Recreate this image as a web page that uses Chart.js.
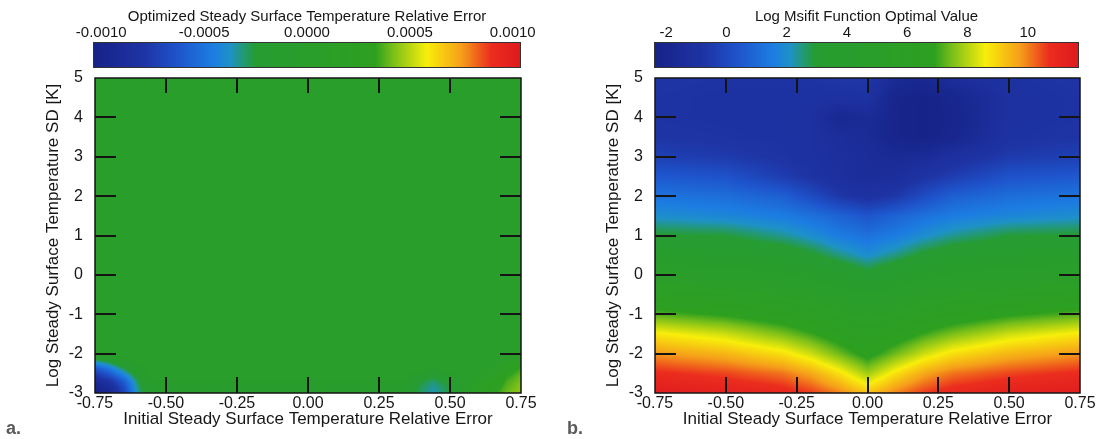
<!DOCTYPE html>
<html>
<head>
<meta charset="utf-8">
<script src="https://cdn.jsdelivr.net/npm/chart.js@4.4.1/dist/chart.umd.min.js"></script>
<style>
  body { margin: 0; background: #fff; width: 1097px; height: 439px; position: relative; overflow: hidden; }
  canvas { position: absolute; }
  .tag { position: absolute; top: 418px; font: bold 18px "Liberation Sans", Arial, sans-serif; color: #5a5a5a; }
</style>
</head>
<body>
<canvas id="barA" width="560" height="75" style="left:0;top:0"></canvas>
<canvas id="mapA" width="560" height="439" style="left:0;top:0"></canvas>
<canvas id="barB" width="537" height="75" style="left:560px;top:0"></canvas>
<canvas id="mapB" width="537" height="439" style="left:560px;top:0"></canvas>
<div class="tag" style="left:6px">a.</div>
<div class="tag" style="left:567px">b.</div>
<script>
// axis ticks
var axisXTicks = [-0.75, -0.5, -0.25, 0, 0.25, 0.5, 0.75];
var axisYTicks = [-3, -2, -1, 0, 1, 2, 3, 4, 5];
var barTicksA = [-0.001, -0.0005, 0, 0.0005, 0.001];
var barTicksB = [-2, 0, 2, 4, 6, 8, 10];
var rangeA = [-0.00104, 0.00104];
var rangeB = [-2.4, 11.7];

// panel a: optimized relative error, rows go from y=-3 upwards
var gridXA = [-0.75, -0.7, -0.65, -0.6, -0.55, 0.34, 0.39, 0.44, 0.49, 0.54, 0.6, 0.66, 0.7, 0.75];
var gridYA = [-3, -2.85, -2.7, -2.55, -2.4, -2.2, -2.0, 5];
var errA = [
  [-0.00104, -0.00095, -0.00072, -0.00035, -0.00012, -0.0001, -0.00028, -0.00036, -0.00028, -0.0001, 0.00015, 0.00033, 0.0004, 0.00045],
  [-0.001, -0.0009, -0.00068, -0.00032, -0.0001, -0.00008, -0.00027, -0.00034, -0.00027, -0.00008, 0.00015, 0.0003, 0.00038, 0.00044],
  [-0.0009, -0.0008, -0.0006, -0.00028, -0.00005, -0.00005, -0.00024, -0.0003, -0.00024, -0.00005, 0.0001, 0.00025, 0.00036, 0.00042],
  [-0.00078, -0.00065, -0.00045, -0.0002, 0, 0, -0.00012, -0.00024, -0.00012, 0, 0.00005, 0.00015, 0.00032, 0.0004],
  [-0.00065, -0.0005, -0.0003, -0.0001, 0, 0, 0, -0.00005, 0, 0, 0, 0.00005, 0.00025, 0.00036],
  [-0.00035, -0.00025, -0.0001, 0, 0, 0, 0, 0, 0, 0, 0, 0, 0.0001, 0.0002],
  [0, 0, 0, 0, 0, 0, 0, 0, 0, 0, 0, 0, 0, 0],
  [0, 0, 0, 0, 0, 0, 0, 0, 0, 0, 0, 0, 0, 0]
];

// panel b: log misfit, rows go from y=-3 upwards
var gridXB = [-0.75, -0.5, -0.3, -0.2, -0.1, 0, 0.1, 0.2, 0.3, 0.5, 0.75];
var gridYB = [-3, -2.5, -2, -1.5, -1, -0.5, 0, 0.5, 1, 1.5, 2, 2.5, 3, 3.5, 4, 4.5, 5];
var misfitB = [
  [11.5, 11.3, 11.0, 10.6, 10.0, 9.2, 10.0, 10.6, 11.0, 11.3, 11.5],
  [10.8, 10.5, 10.1, 9.6, 8.8, 7.8, 8.8, 9.6, 10.1, 10.5, 10.8],
  [9.8, 9.4, 8.8, 8.2, 7.4, 6.6, 7.4, 8.2, 8.8, 9.4, 9.8],
  [8.7, 8.2, 7.5, 7.0, 6.4, 6.0, 6.4, 7.0, 7.5, 8.2, 8.7],
  [7.2, 6.8, 6.3, 6.0, 5.6, 5.3, 5.6, 6.0, 6.3, 6.8, 7.2],
  [6.0, 5.7, 5.4, 5.2, 4.8, 4.5, 4.8, 5.2, 5.4, 5.7, 6.0],
  [5.0, 4.8, 4.5, 4.2, 3.8, 3.2, 3.8, 4.2, 4.5, 4.8, 5.0],
  [4.0, 3.8, 3.5, 3.1, 2.5, 2.0, 2.5, 3.1, 3.5, 3.8, 4.0],
  [3.0, 2.9, 2.4, 2.0, 1.5, 1.2, 1.5, 2.0, 2.4, 2.9, 3.0],
  [2.0, 1.8, 1.5, 1.2, 0.8, 0.4, 0.8, 1.2, 1.5, 1.8, 2.0],
  [1.3, 1.1, 0.7, 0.1, -0.6, -1.0, -0.6, 0.1, 0.7, 1.1, 1.3],
  [0.5, 0.3, -0.4, -0.8, -1.2, -1.4, -1.3, -0.8, -0.4, 0.3, 0.5],
  [-0.3, -0.5, -0.8, -1.0, -1.2, -1.4, -1.6, -1.5, -1.1, -0.5, -0.3],
  [-0.7, -0.8, -0.9, -1.0, -1.3, -1.5, -2.1, -2.3, -2.0, -0.9, -0.7],
  [-0.8, -0.9, -0.9, -1.0, -1.8, -1.5, -2.1, -2.3, -2.1, -1.0, -0.8],
  [-0.8, -0.9, -0.9, -0.9, -1.0, -0.9, -2.1, -2.3, -2.0, -1.0, -0.8],
  [-0.7, -0.8, -0.8, -0.8, -0.6, -0.6, -1.5, -1.8, -1.3, -0.9, -0.7]
];

// rainbow colour table shared by both colour bars
var cmap = [
  [0.00, 22, 34, 135], [0.12, 30, 52, 165], [0.20, 30, 85, 205], [0.28, 28, 125, 225],
  [0.32, 30, 145, 200], [0.35, 35, 152, 120], [0.38, 38, 156, 50], [0.66, 45, 160, 32],
  [0.70, 120, 190, 25], [0.78, 248, 238, 10], [0.86, 245, 160, 25], [0.93, 235, 45, 30],
  [1.00, 222, 25, 30]
];

function colorAt(t) {
  t = Math.max(0, Math.min(1, t));
  for (var k = 1; k < cmap.length; k++) {
    if (t <= cmap[k][0]) {
      var a = cmap[k - 1], b = cmap[k], f = (t - a[0]) / (b[0] - a[0]);
      return [a[1] + (b[1] - a[1]) * f, a[2] + (b[2] - a[2]) * f, a[3] + (b[3] - a[3]) * f];
    }
  }
  return cmap[cmap.length - 1].slice(1);
}

function cell(arr, v) {
  var i = 0;
  while (i < arr.length - 2 && v > arr[i + 1]) i++;
  return i;
}

function sample(gx, gy, gz, xv, yv) {
  var i = cell(gx, xv), j = cell(gy, yv);
  var tx = Math.max(0, Math.min(1, (xv - gx[i]) / (gx[i + 1] - gx[i])));
  var ty = Math.max(0, Math.min(1, (yv - gy[j]) / (gy[j + 1] - gy[j])));
  var lo = gz[j][i] * (1 - tx) + gz[j][i + 1] * tx;
  var hi = gz[j + 1][i] * (1 - tx) + gz[j + 1][i + 1] * tx;
  return lo * (1 - ty) + hi * ty;
}

// shades the plot area from the grid, pixel by pixel, through the chart scales
var heatmap = {
  id: 'heatmap',
  beforeDatasetsDraw: function(chart, args, o) {
    if (!o.z) return;
    var a = chart.chartArea, xs = chart.scales.x, ys = chart.scales.y;
    var w = Math.round(a.right - a.left), h = Math.round(a.bottom - a.top);
    var img = chart.ctx.createImageData(w, h);
    for (var j = 0; j < h; j++) {
      var yv = ys.getValueForPixel(a.top + j + 0.5);
      for (var i = 0; i < w; i++) {
        var xv = xs.getValueForPixel(a.left + i + 0.5);
        var c = colorAt((sample(o.x, o.y, o.z, xv, yv) - o.range[0]) / (o.range[1] - o.range[0]));
        var p = (j * w + i) * 4;
        img.data[p] = c[0]; img.data[p + 1] = c[1]; img.data[p + 2] = c[2]; img.data[p + 3] = 255;
      }
    }
    chart.ctx.putImageData(img, Math.round(a.left), Math.round(a.top));
  }
};

// colour bar strip drawn along the x scale
var colorbar = {
  id: 'colorbar',
  beforeDatasetsDraw: function(chart, args, o) {
    if (!o.range) return;
    var a = chart.chartArea, xs = chart.scales.x, ctx = chart.ctx;
    for (var px = Math.round(a.left); px < Math.round(a.right); px++) {
      var c = colorAt((xs.getValueForPixel(px + 0.5) - o.range[0]) / (o.range[1] - o.range[0]));
      ctx.fillStyle = 'rgb(' + c.map(Math.round).join(',') + ')';
      ctx.fillRect(px, a.top, 1, a.bottom - a.top);
    }
    ctx.strokeStyle = '#333';
    ctx.lineWidth = 1;
    ctx.strokeRect(a.left + 0.5, a.top + 0.5, a.right - a.left - 1, a.bottom - a.top - 1);
  }
};

// black frame with inward tick marks on all four sides
var frame = {
  id: 'frame',
  afterDatasetsDraw: function(chart, args, o) {
    if (!o.on) return;
    var a = chart.chartArea, ctx = chart.ctx, xs = chart.scales.x, ys = chart.scales.y;
    ctx.save();
    ctx.strokeStyle = '#141414';
    ctx.lineWidth = 2;
    ctx.beginPath();
    xs.ticks.forEach(function(t) {
      if (t.value <= xs.min + 1e-9 || t.value >= xs.max - 1e-9) return;
      var px = Math.round(xs.getPixelForValue(t.value));
      ctx.moveTo(px, a.bottom); ctx.lineTo(px, a.bottom - 16);
      ctx.moveTo(px, a.top); ctx.lineTo(px, a.top + 15);
    });
    ys.ticks.forEach(function(t) {
      if (t.value <= ys.min + 1e-9 || t.value >= ys.max - 1e-9) return;
      var py = Math.round(ys.getPixelForValue(t.value));
      ctx.moveTo(a.left, py); ctx.lineTo(a.left + 21, py);
      ctx.moveTo(a.right, py); ctx.lineTo(a.right - 21, py);
    });
    ctx.stroke();
    ctx.lineWidth = 1.5;
    ctx.strokeRect(a.left, a.top, a.right - a.left, a.bottom - a.top);
    ctx.restore();
  }
};

var FONT = '"Liberation Sans", Arial, sans-serif';
var INK = '#161616';

function makeMap(id, gx, gy, gz, range, padRight) {
  return new Chart(document.getElementById(id), {
    type: 'scatter',
    data: { datasets: [] },
    options: {
      responsive: false,
      animation: false,
      events: [],
      layout: { padding: { left: 40, top: 78, right: padRight, bottom: 0 } },
      plugins: {
        legend: { display: false },
        tooltip: { enabled: false },
        heatmap: { x: gx, y: gy, z: gz, range: range },
        frame: { on: true }
      },
      scales: {
        x: {
          type: 'linear', min: -0.75, max: 0.75,
          grid: { display: false, drawTicks: false }, border: { display: false },
          afterBuildTicks: function(s) { s.ticks = axisXTicks.map(function(v) { return { value: v }; }); },
          afterFit: function(s) { s.height = 46; },
          ticks: { padding: 1, color: INK, font: { family: FONT, size: 16 }, maxRotation: 0,
            callback: function(v) { return v.toFixed(2); } },
          title: { display: true, text: 'Initial Steady Surface Temperature Relative Error',
            color: INK, font: { family: FONT, size: 17 }, padding: { top: 0, bottom: 9 } }
        },
        y: {
          type: 'linear', min: -3, max: 5,
          grid: { display: false, drawTicks: false }, border: { display: false },
          afterBuildTicks: function(s) { s.ticks = axisYTicks.map(function(v) { return { value: v }; }); },
          afterFit: function(s) { s.width = 55; },
          ticks: { padding: 12, color: INK, font: { family: FONT, size: 16 } },
          title: { display: true, text: 'Log Steady Surface Temperature SD [K]',
            color: INK, font: { family: FONT, size: 17 }, padding: { top: 3, bottom: 0 } }
        }
      }
    },
    plugins: [heatmap, frame]
  });
}

function makeBar(id, range, ticks, label, fmt, padLeft, padRight) {
  return new Chart(document.getElementById(id), {
    type: 'scatter',
    data: { datasets: [] },
    options: {
      responsive: false,
      animation: false,
      events: [],
      layout: { padding: { left: padLeft, top: 0, right: padRight, bottom: 7 } },
      plugins: {
        legend: { display: false },
        tooltip: { enabled: false },
        colorbar: { range: range }
      },
      scales: {
        x: {
          type: 'linear', position: 'top', min: range[0], max: range[1],
          grid: { display: false, drawTicks: false }, border: { display: false },
          afterBuildTicks: function(s) { s.ticks = ticks.map(function(v) { return { value: v }; }); },
          afterFit: function(s) { s.height = 42; },
          ticks: { padding: 0, color: INK, font: { family: FONT, size: 15 }, maxRotation: 0, callback: fmt },
          title: { display: true, text: label, color: INK, font: { family: FONT, size: 15 },
            padding: { top: 8, bottom: 0 } }
        },
        y: { display: false, min: 0, max: 1 }
      }
    },
    plugins: [colorbar]
  });
}

makeBar('barA', rangeA, barTicksA, 'Optimized Steady Surface Temperature Relative Error',
  function(v) { return v.toFixed(4); }, 93, 39);
makeBar('barB', rangeB, barTicksB, 'Log Msifit Function Optimal Value',
  function(v) { return String(v); }, 94, 18);
makeMap('mapA', gridXA, gridYA, errA, rangeA, 39);
makeMap('mapB', gridXB, gridYB, misfitB, rangeB, 17);
</script>
</body>
</html>
